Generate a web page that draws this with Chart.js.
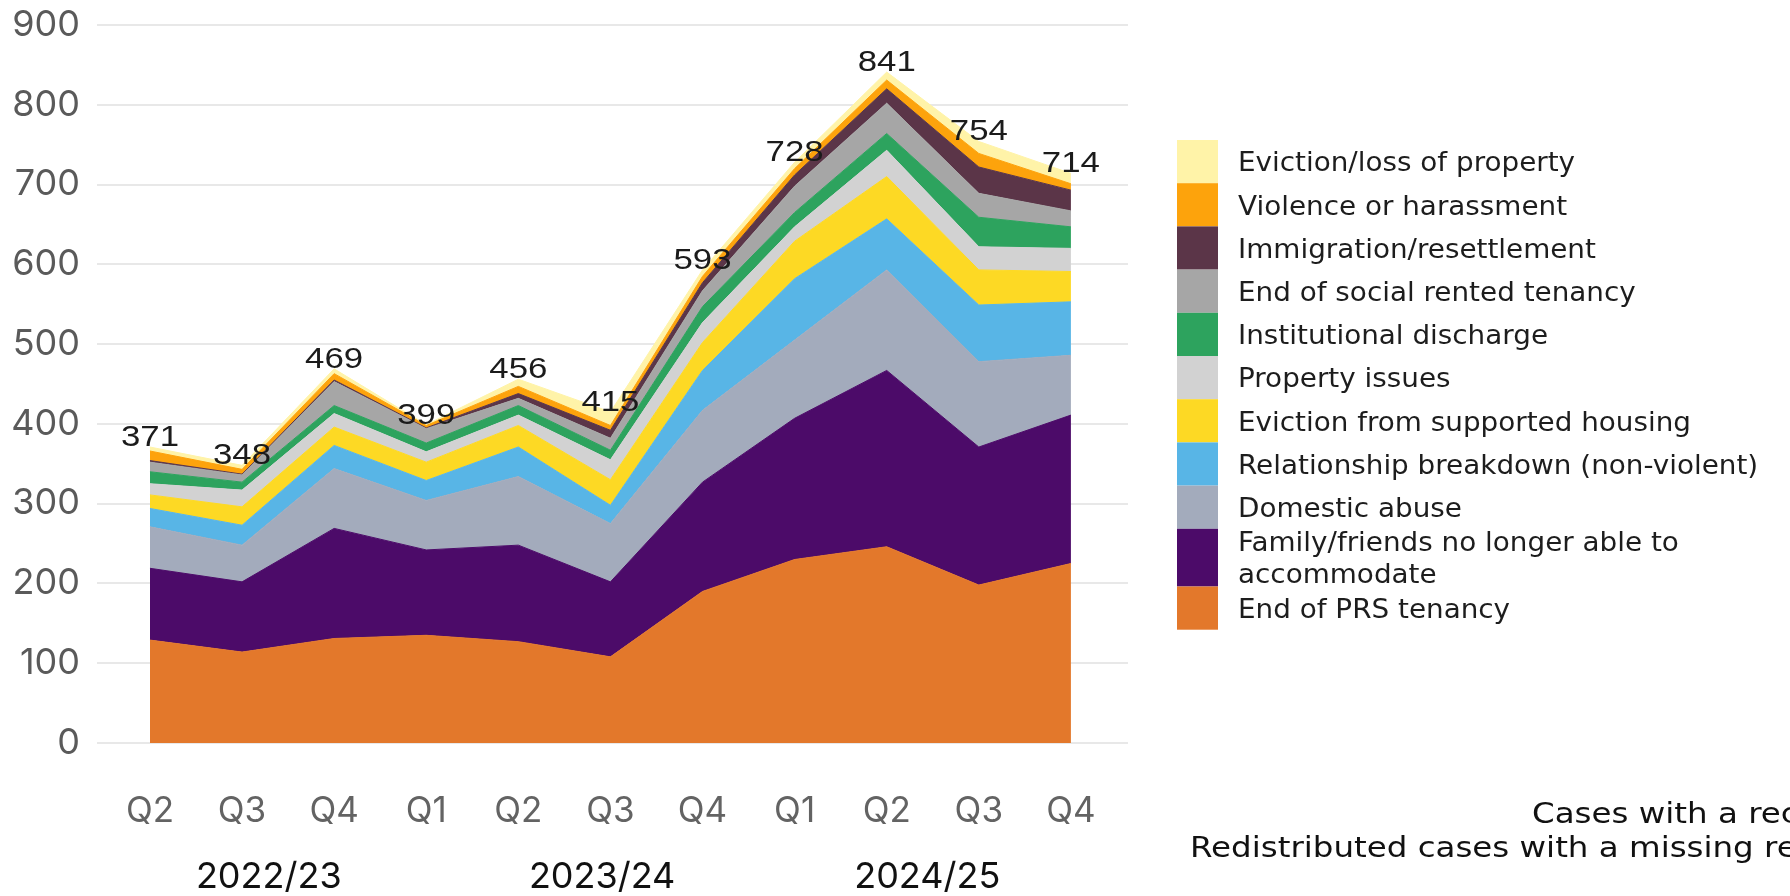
<!DOCTYPE html>
<html>
<head>
<meta charset="utf-8">
<script src="https://cdn.jsdelivr.net/npm/chart.js@4.4.1/dist/chart.umd.min.js"></script>
<style>
  html, body { margin: 0; padding: 0; background: #fff; }
  #wrap { width: 1790px; height: 896px; }
</style>
</head>
<body>
<div id="wrap"><canvas id="chart" width="1790" height="896"></canvas></div>
<script>
const quarters = ['Q2', 'Q3', 'Q4', 'Q1', 'Q2', 'Q3', 'Q4', 'Q1', 'Q2', 'Q3', 'Q4'];
const years = ['2022/23', '2023/24', '2024/25'];
const totals = [371, 348, 469, 399, 456, 415, 593, 728, 841, 754, 714];

// reasons for homelessness, bottom of the stack first
const endOfPrsTenancy = [129, 114, 131, 135, 127, 108, 190, 230, 246, 198, 225];
const familyFriends = [90, 88, 138, 107, 121, 94, 137, 177, 221, 173, 186];
const domesticAbuse = [52, 46, 75, 62, 86, 73, 90, 98, 126, 107, 75];
const relationshipBreakdown = [23, 25, 29, 25, 37, 23, 50, 77, 64, 71, 67];
const supportedHousing = [17, 23, 23, 23, 27, 32, 35, 47, 53, 44, 38];
const propertyIssues = [14, 21, 17, 13, 13, 25, 25, 18, 33, 29, 29];
const institutional = [15, 10, 10, 11, 12, 12, 20, 18, 21, 37, 27];
const socialTenancy = [12, 9, 30, 18, 9, 15, 20, 33, 38, 30, 20];
const immigration = [2, 1, 2, 1, 6, 10, 10, 14, 18, 33, 26];
const violence = [12, 6, 8, 3, 9, 6, 8, 8, 11, 17, 8];
const lossOfProperty = [5, 5, 6, 1, 9, 17, 8, 8, 10, 15, 13];

const yTicks = [0, 100, 200, 300, 400, 500, 600, 700, 800, 900];
const notes = ['Cases with a recorded reason', 'Redistributed cases with a missing reason'];

const series = [
  { label: ['End of PRS tenancy'], values: endOfPrsTenancy, color: '#e3782b' },
  { label: ['Family/friends no longer able to', 'accommodate'], values: familyFriends, color: '#4c0b69' },
  { label: ['Domestic abuse'], values: domesticAbuse, color: '#a3abbc' },
  { label: ['Relationship breakdown (non-violent)'], values: relationshipBreakdown, color: '#58b5e6' },
  { label: ['Eviction from supported housing'], values: supportedHousing, color: '#fdd924' },
  { label: ['Property issues'], values: propertyIssues, color: '#d2d2d2' },
  { label: ['Institutional discharge'], values: institutional, color: '#2da35e' },
  { label: ['End of social rented tenancy'], values: socialTenancy, color: '#a6a6a6' },
  { label: ['Immigration/resettlement'], values: immigration, color: '#5b3548' },
  { label: ['Violence or harassment'], values: violence, color: '#fda30c' },
  { label: ['Eviction/loss of property'], values: lossOfProperty, color: '#fff3a8' }
];

const SANS = 'Inter, "Open Sans", sans-serif';
const WIDE = '"DejaVu Sans", Inter, sans-serif';
const yearCentres = [1.29, 4.91, 8.44];

// text drawn a little wider than the font's natural width
function wideText(ctx, text, x, y, stretch) {
  ctx.save();
  ctx.translate(x, y);
  ctx.scale(stretch, 1);
  ctx.fillText(text, 0, 0);
  ctx.restore();
}

const overlay = {
  id: 'overlay',
  afterDraw(chart) {
    const { ctx, scales: { x, y } } = chart;
    ctx.save();

    // stack totals
    ctx.fillStyle = '#1b1b1b';
    ctx.font = '29px "Liberation Sans", Arial, sans-serif';
    ctx.textAlign = 'center';
    ctx.textBaseline = 'alphabetic';
    totals.forEach((t, i) => {
      wideText(ctx, String(t), x.getPixelForValue(i), y.getPixelForValue(t) - 1, 1.2);
    });

    // financial years under the quarters
    ctx.fillStyle = '#111';
    ctx.font = '36px ' + SANS;
    ctx.textBaseline = 'middle';
    years.forEach((yr, i) => ctx.fillText(yr, x.getPixelForValue(yearCentres[i]), 877));

    // legend: one continuous colour strip, top of the stack first
    const left = 1177, boxW = 41, rowH = 43.2, lineH = 32;
    let top = 140;
    ctx.textAlign = 'left';
    ctx.font = '26px ' + WIDE;
    [...series].reverse().forEach(s => {
      const h = rowH + (s.label.length - 1) * 14.5;
      ctx.fillStyle = s.color;
      ctx.fillRect(left, top, boxW, h);
      ctx.fillStyle = '#1d1d1d';
      const mid = top + h / 2 + 3;
      s.label.forEach((line, k) => {
        wideText(ctx, line, left + 61, mid + (k - (s.label.length - 1) / 2) * lineH, 1.07);
      });
      top += h;
    });

    // notes, cut by the right edge
    ctx.font = '29px ' + WIDE;
    ctx.fillStyle = '#111';
    wideText(ctx, notes[0], 1532, 815, 1.12);
    wideText(ctx, notes[1], 1190, 849, 1.12);

    ctx.restore();
  }
};

const datasets = series.map((s, i) => ({
  label: s.label.join(' '),
  data: s.values.map((v, k) => ({ x: k, y: v })),
  backgroundColor: s.color,
  borderColor: s.color,
  borderWidth: 1,
  pointRadius: 0,
  tension: 0,
  fill: i === 0 ? 'origin' : '-1'
}));

new Chart(document.getElementById('chart').getContext('2d'), {
  type: 'line',
  data: { datasets },
  options: {
    responsive: false,
    animation: false,
    layout: { padding: { top: 25, right: 662, left: 0, bottom: 0 } },
    plugins: { legend: { display: false }, tooltip: { enabled: false } },
    scales: {
      x: {
        type: 'linear',
        min: -0.575,
        max: 10.62,
        grid: { display: false },
        border: { display: false },
        afterBuildTicks: axis => { axis.ticks = quarters.map((_, i) => ({ value: i })); },
        afterFit: axis => {
          axis.height = 153;
          axis.paddingLeft = 0;
          axis.paddingRight = 0;
        },
        ticks: {
          autoSkip: false,
          maxRotation: 0,
          padding: 39,
          color: '#636363',
          font: { family: SANS, size: 35 },
          callback: v => quarters[v]
        }
      },
      y: {
        stacked: true,
        min: 0,
        max: 900,
        border: { display: false },
        grid: { color: '#e8e8e8', lineWidth: 2, drawTicks: false },
        afterFit: axis => {
          axis.width = 97;
          axis.paddingTop = 0;
          axis.paddingBottom = 0;
        },
        ticks: {
          stepSize: 50,
          padding: 17,
          color: '#5a5a5a',
          font: { family: SANS, size: 36 },
          callback: v => (yTicks.includes(v) ? v : '')
        }
      }
    }
  },
  plugins: [overlay]
});
</script>
</body>
</html>
